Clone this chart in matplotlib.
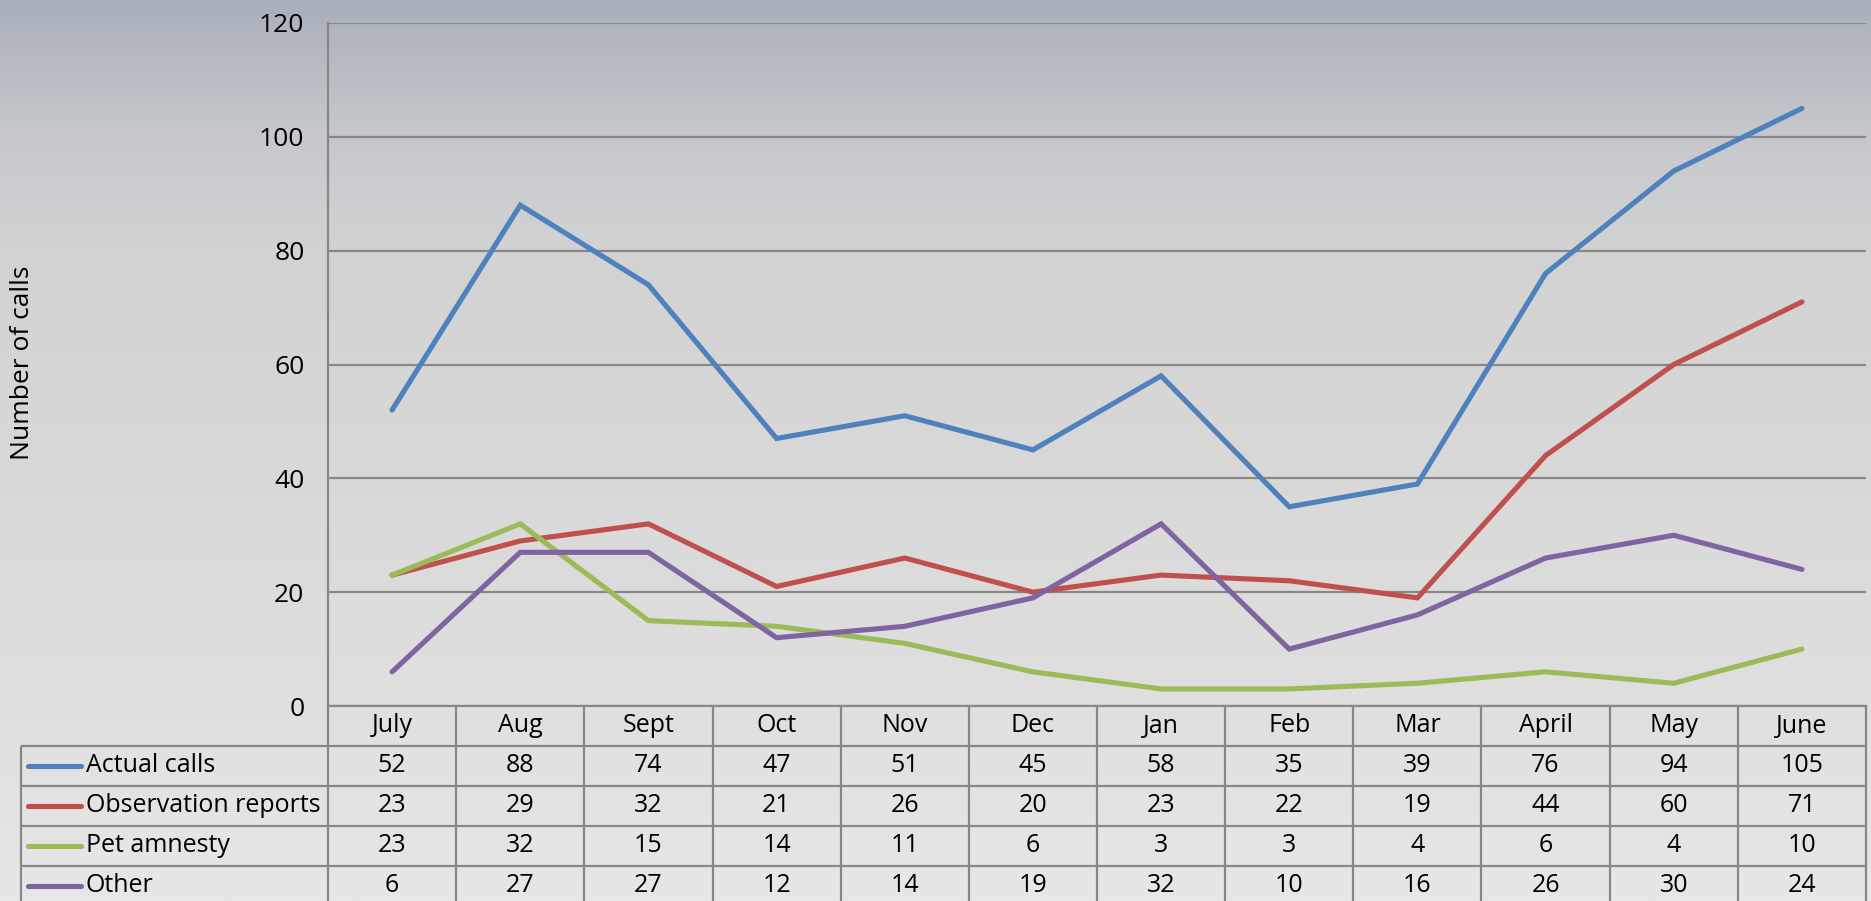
import numpy as np
import matplotlib
matplotlib.use('Agg')
import matplotlib.pyplot as plt
from matplotlib import transforms as mtransforms
from matplotlib.colors import LinearSegmentedColormap
from matplotlib.lines import Line2D

# ---------------- data ----------------
months = ['July', 'Aug', 'Sept', 'Oct', 'Nov', 'Dec', 'Jan', 'Feb', 'Mar', 'April', 'May', 'June']
series_names = ['Actual calls', 'Observation reports', 'Pet amnesty', 'Other']
actual_calls = [52, 88, 74, 47, 51, 45, 58, 35, 39, 76, 94, 105]
observation_reports = [23, 29, 32, 21, 26, 20, 23, 22, 19, 44, 60, 71]
pet_amnesty = [23, 32, 15, 14, 11, 6, 3, 3, 4, 6, 4, 10]
other = [6, 27, 27, 12, 14, 19, 32, 10, 16, 26, 30, 24]
yticks = [0, 20, 40, 60, 80, 100, 120]
y_label = 'Number of calls'

series = [actual_calls, observation_reports, pet_amnesty, other]
colors = ['#4F81BD', '#C0504D', '#9BBB59', '#8064A2']

plt.rcParams['font.family'] = ['Open Sans', 'DejaVu Sans']

W, H = 1871, 901
fig = plt.figure(figsize=(W / 100, H / 100), dpi=100)

# background gradient
bg = fig.add_axes([0, 0, 1, 1], zorder=-10)
stops = [(0.0, '#a9b0bb'), (0.05, '#b3b8c0'), (0.15, '#c6c8cc'), (0.27, '#d2d2d3'),
         (0.55, '#d9d9d9'), (0.8, '#e0e0e0'), (1.0, '#e7e7e7')]
cmap = LinearSegmentedColormap.from_list('bg', stops)
bg.imshow(np.linspace(0, 1, 512).reshape(-1, 1), aspect='auto', cmap=cmap,
          extent=[0, 1, 0, 1])
bg.axis('off')

# plot area (pixel geometry)
L, R, T, B = 328, 1866, 23, 706
ax = fig.add_axes([L / W, 1 - B / H, (R - L) / W, (B - T) / H])
ax.set_facecolor('none')
n = len(months)
ax.set_xlim(-0.5, n - 0.5)
ax.set_ylim(yticks[0], yticks[-1])
ax.set_yticks(yticks)
ax.set_xticks([])
grid_c = '#878787'
ax.yaxis.grid(True, color=grid_c, lw=1.6)
ax.set_axisbelow(True)
for s in ['top', 'right']:
    ax.spines[s].set_visible(False)
for s in ['left', 'bottom']:
    ax.spines[s].set_color(grid_c)
    ax.spines[s].set_linewidth(1.6)
ax.tick_params(axis='y', length=0, pad=17, labelsize=19, labelcolor='black')

x = np.arange(n)
for vals, c in zip(series, colors):
    ax.plot(x, vals, color=c, lw=3.7, solid_capstyle='round', solid_joinstyle='miter', zorder=3)

fig.text(23 / W, 1 - 363 / H, y_label, rotation=90, ha='center', va='center', fontsize=19)

# ---------------- data table ----------------
tr = mtransforms.blended_transform_factory(ax.transData, ax.transAxes)
rh = 40 / (B - T)
colw = (R - L) / n
def px2x(px):
    return -0.5 + (px - L) / colw
x_left = px2x(20.5)
nrows = len(series) + 1
bottom = -nrows * rh
lkw = dict(color=grid_c, lw=1.6, transform=tr, clip_on=False, solid_capstyle='butt')

for k in range(n + 1):
    ax.add_line(Line2D([k - 0.5, k - 0.5], [0, bottom], **lkw))
for j in range(1, nrows + 1):
    ax.add_line(Line2D([x_left, n - 0.5], [-j * rh, -j * rh], **lkw))
ax.add_line(Line2D([x_left, x_left], [-rh, bottom], **lkw))

tfs = 18
for i, m in enumerate(months):
    ax.text(i, -0.5 * rh, m, transform=tr, ha='center', va='center', fontsize=tfs, clip_on=False)
for r, (name, vals, c) in enumerate(zip(series_names, series, colors)):
    yc = -(r + 1.5) * rh
    ax.add_line(Line2D([px2x(28), px2x(81)], [yc, yc], color=c, lw=3.7, transform=tr,
                       clip_on=False, solid_capstyle='round'))
    ax.text(px2x(86), yc, name, transform=tr, ha='left', va='center', fontsize=tfs, clip_on=False)
    for i, v in enumerate(vals):
        ax.text(i, yc, str(v), transform=tr, ha='center', va='center', fontsize=tfs, clip_on=False)

fig.savefig('out.png', dpi=100)
